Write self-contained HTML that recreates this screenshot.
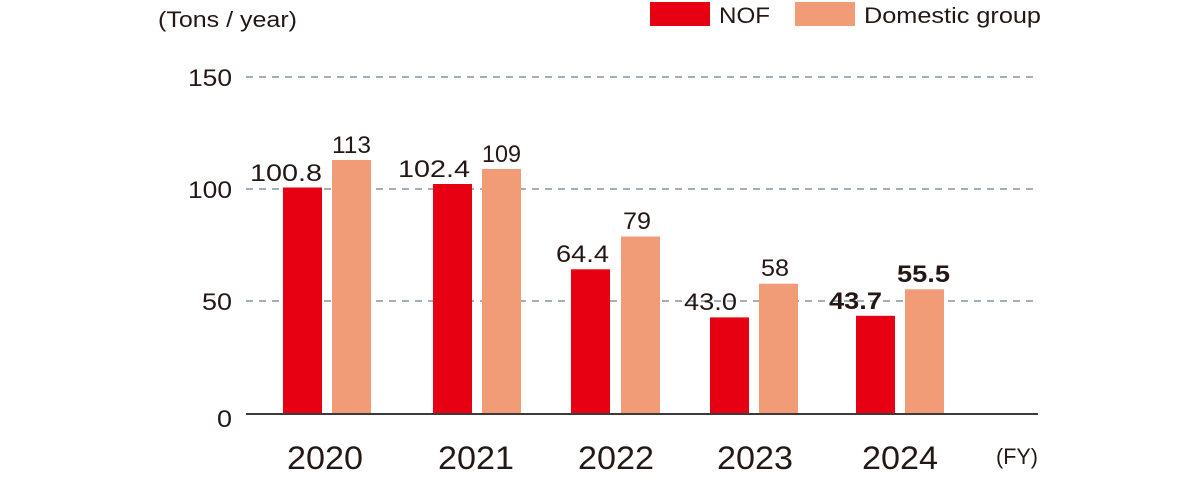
<!DOCTYPE html><html><head><style>body{margin:0;background:#fff}svg{display:block}text{font-family:"Liberation Sans",Arial,sans-serif;fill:#231815}</style></head><body>
<svg width="1201" height="483" viewBox="0 0 1201 483">
<text x="158" y="27" font-size="22" textLength="139" lengthAdjust="spacingAndGlyphs">(Tons / year)</text>
<rect x="650" y="2" width="60" height="24" fill="#e60012"/><text x="719" y="23" font-size="22" textLength="51" lengthAdjust="spacingAndGlyphs">NOF</text>
<rect x="795" y="2" width="60" height="24" fill="#f29c77"/><text x="864" y="23" font-size="22" textLength="177" lengthAdjust="spacingAndGlyphs">Domestic group</text>
<g stroke="#8493a4" stroke-width="1.5" stroke-dasharray="7,6"><line x1="246" y1="77" x2="1038" y2="77"/><line x1="246" y1="189" x2="1038" y2="189"/><line x1="246" y1="301" x2="1038" y2="301"/></g>
<g font-size="24"><text x="188" y="86" textLength="44" lengthAdjust="spacingAndGlyphs">150</text><text x="188" y="198" textLength="44" lengthAdjust="spacingAndGlyphs">100</text><text x="202" y="310" textLength="30" lengthAdjust="spacingAndGlyphs">50</text><text x="217" y="427" textLength="15" lengthAdjust="spacingAndGlyphs">0</text></g>
<g fill="#e60012"><rect x="283" y="187.5" width="39" height="226.5"/><rect x="433" y="184" width="39" height="230"/><rect x="571" y="269.3" width="39" height="144.7"/><rect x="710" y="317.4" width="39" height="96.6"/><rect x="856" y="315.8" width="39" height="98.2"/></g>
<g fill="#f29c77"><rect x="332" y="160" width="39" height="254"/><rect x="482" y="169" width="39" height="245"/><rect x="621" y="236.5" width="39" height="177.5"/><rect x="759" y="283.7" width="39" height="130.3"/><rect x="905" y="289.3" width="39" height="124.7"/></g>
<line x1="246" y1="414" x2="1038" y2="414" stroke="#3e3a39" stroke-width="2"/>
<g font-size="24">
<text x="250" y="181" textLength="72" lengthAdjust="spacingAndGlyphs">100.8</text>
<text x="332" y="153" textLength="39" lengthAdjust="spacingAndGlyphs">113</text>
<text x="398" y="177" textLength="72" lengthAdjust="spacingAndGlyphs">102.4</text>
<text x="482" y="162" textLength="39" lengthAdjust="spacingAndGlyphs">109</text>
<text x="556" y="262" textLength="53" lengthAdjust="spacingAndGlyphs">64.4</text>
<text x="623" y="229" textLength="28" lengthAdjust="spacingAndGlyphs">79</text>
<text x="684" y="310" textLength="53" lengthAdjust="spacingAndGlyphs">43.0</text>
<text x="761" y="276" textLength="28" lengthAdjust="spacingAndGlyphs">58</text>
<text x="829" y="309" font-weight="bold" textLength="53" lengthAdjust="spacingAndGlyphs">43.7</text>
<text x="897" y="282" font-weight="bold" textLength="53" lengthAdjust="spacingAndGlyphs">55.5</text></g>
<g font-size="32"><text x="287" y="469" textLength="76" lengthAdjust="spacingAndGlyphs">2020</text><text x="438" y="469" textLength="76" lengthAdjust="spacingAndGlyphs">2021</text><text x="578" y="469" textLength="76" lengthAdjust="spacingAndGlyphs">2022</text><text x="717" y="469" textLength="76" lengthAdjust="spacingAndGlyphs">2023</text><text x="862" y="469" textLength="76" lengthAdjust="spacingAndGlyphs">2024</text></g>
<text x="996" y="464" font-size="22" textLength="42" lengthAdjust="spacingAndGlyphs">(FY)</text>
</svg></body></html>
